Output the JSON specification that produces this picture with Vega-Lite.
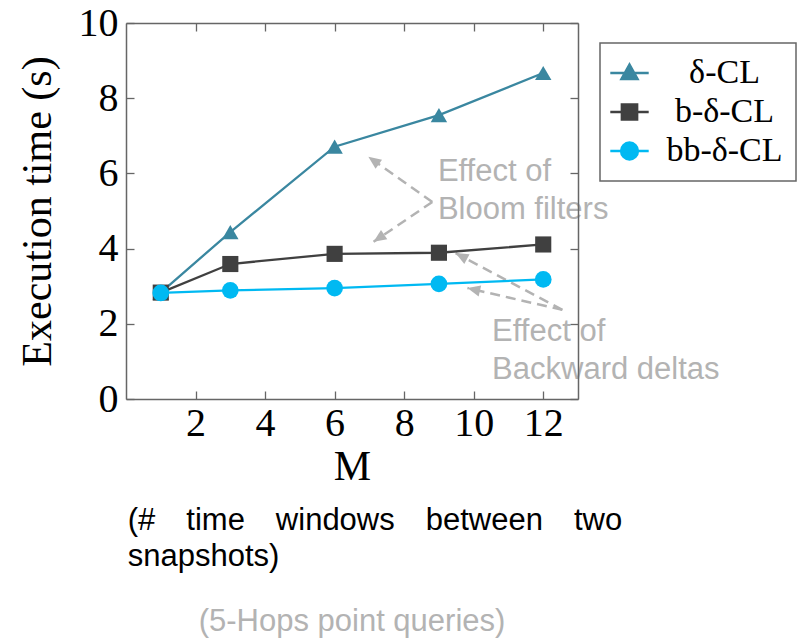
{
  "$schema": "https://vega.github.io/schema/vega-lite/v6.json",
  "width": 452,
  "height": 376,
  "autosize": {"type": "none"},
  "padding": {"left": 126, "top": 23, "right": 229, "bottom": 239},
  "background": "white",
  "datasets": {
    "series": [
      {"M": 1, "t": 2.83, "s": "δ-CL"},
      {"M": 3, "t": 4.44, "s": "δ-CL"},
      {"M": 6, "t": 6.71, "s": "δ-CL"},
      {"M": 9, "t": 7.55, "s": "δ-CL"},
      {"M": 12, "t": 8.67, "s": "δ-CL"},
      {"M": 1, "t": 2.83, "s": "b-δ-CL"},
      {"M": 3, "t": 3.59, "s": "b-δ-CL"},
      {"M": 6, "t": 3.86, "s": "b-δ-CL"},
      {"M": 9, "t": 3.89, "s": "b-δ-CL"},
      {"M": 12, "t": 4.11, "s": "b-δ-CL"},
      {"M": 1, "t": 2.82, "s": "bb-δ-CL"},
      {"M": 3, "t": 2.89, "s": "bb-δ-CL"},
      {"M": 6, "t": 2.95, "s": "bb-δ-CL"},
      {"M": 9, "t": 3.06, "s": "bb-δ-CL"},
      {"M": 12, "t": 3.18, "s": "bb-δ-CL"}
    ],
    "arrows": [
      {"tx": 8.81, "ty": 5.24, "hx": 6.97, "hy": 6.44},
      {"tx": 8.81, "ty": 5.24, "hx": 7.12, "hy": 4.18},
      {"tx": 12.55, "ty": 2.37, "hx": 9.48, "hy": 3.88},
      {"tx": 12.55, "ty": 2.37, "hx": 9.82, "hy": 2.95}
    ],
    "notes": [
      {"x": 8.97, "y": 6.04, "label": "Effect of\nBloom filters"},
      {"x": 10.53, "y": 1.78, "label": "Effect of\nBackward deltas"}
    ],
    "caption": [
      {"x": 0.05, "y": -3.48, "label": "(#\u2002\u2002time\u2002\u2002windows\u2002\u2002between\u2002\u2002two\nsnapshots)"}
    ]
  },
  "title": {
    "text": "(5-Hops point queries)",
    "orient": "bottom",
    "anchor": "middle",
    "font": "Liberation Sans",
    "fontSize": 31,
    "fontWeight": "normal",
    "color": "#b3b3b3",
    "offset": 35
  },
  "config": {
    "view": {"stroke": null},
    "axis": {
      "grid": false,
      "domainColor": "#666666",
      "domainWidth": 1.5,
      "tickColor": "#666666",
      "tickWidth": 1.3,
      "tickSize": -8,
      "labelFont": "Liberation Serif",
      "labelFontSize": 40,
      "labelColor": "#000000",
      "labelFlush": false,
      "titleFont": "Liberation Serif",
      "titleFontSize": 42,
      "titleFontWeight": "normal",
      "titleColor": "#000000"
    },
    "legend": {
      "orient": "none",
      "legendX": 474,
      "legendY": 20,
      "padding": 13,
      "fillColor": "white",
      "strokeColor": "#666666",
      "strokeWidth": 1.5,
      "symbolSize": 256,
      "symbolStrokeWidth": 2.5,
      "symbolOpacity": 1,
      "symbolOffset": -0.5,
      "labelOffset": 78,
      "labelAlign": "center",
      "labelFont": "Liberation Serif",
      "labelFontSize": 34,
      "labelColor": "#000000",
      "labelLimit": 300,
      "rowPadding": 5
    }
  },
  "layer": [
    {
      "data": {"name": "notes"},
      "mark": {"type": "text", "align": "left", "baseline": "middle", "font": "Liberation Sans", "fontSize": 31, "color": "#b3b3b3", "lineBreak": "\n", "lineHeight": 38},
      "encoding": {
        "x": {"field": "x", "type": "quantitative", "axis": null},
        "y": {"field": "y", "type": "quantitative", "axis": null},
        "text": {"field": "label"}
      }
    },
    {
      "data": {"name": "arrows"},
      "mark": {"type": "rule", "color": "#b3b3b3", "strokeWidth": 2.5, "strokeDash": [10, 6]},
      "encoding": {
        "x": {"field": "tx", "type": "quantitative", "axis": null},
        "y": {"field": "ty", "type": "quantitative", "axis": null},
        "x2": {"field": "hx"},
        "y2": {"field": "hy"}
      }
    },
    {
      "data": {"name": "arrows"},
      "transform": [{"calculate": "atan2((datum.hx - datum.tx) * 34.77, (datum.hy - datum.ty) * 37.6) * 180 / PI", "as": "ang"}],
      "mark": {"type": "point", "shape": "M0,0L0.7,1.6L-0.7,1.6Z", "filled": true, "size": 256, "color": "#b3b3b3", "opacity": 1, "strokeWidth": 0},
      "encoding": {
        "x": {"field": "hx", "type": "quantitative", "axis": null},
        "y": {"field": "hy", "type": "quantitative", "axis": null},
        "angle": {"field": "ang", "type": "quantitative", "scale": null}
      }
    },
    {
      "data": {"name": "caption"},
      "mark": {"type": "text", "align": "left", "baseline": "alphabetic", "font": "Liberation Sans", "fontSize": 31, "color": "#000000", "lineBreak": "\n", "lineHeight": 36},
      "encoding": {
        "x": {"field": "x", "type": "quantitative", "axis": null},
        "y": {"field": "y", "type": "quantitative", "axis": null},
        "text": {"field": "label"}
      }
    },
    {
      "data": {"name": "series"},
      "transform": [{"filter": "datum.s === 'δ-CL'"}],
      "mark": {"type": "line", "strokeWidth": 2.3, "color": "#3a87a0"},
      "encoding": {
        "x": {
          "field": "M", "type": "quantitative",
          "scale": {"domain": [0, 13], "nice": false, "zero": false},
          "axis": {"orient": "bottom", "values": [2, 4, 6, 8, 10, 12], "title": "M", "labelPadding": 12, "titlePadding": 3, "zindex": 1}
        },
        "y": {
          "field": "t", "type": "quantitative",
          "scale": {"domain": [0, 10], "nice": false},
          "axis": {"orient": "left", "values": [0, 2, 4, 6, 8, 10], "title": "Execution time (s)", "labelPadding": 16, "titlePadding": 19, "zindex": 1}
        }
      }
    },
    {
      "data": {"name": "series"},
      "transform": [{"filter": "datum.s === 'δ-CL'"}],
      "mark": {"type": "point", "shape": "triangle-up", "filled": true, "opacity": 1, "size": 270, "color": "#3a87a0"},
      "encoding": {
        "x": {"field": "M", "type": "quantitative", "axis": null},
        "y": {"field": "t", "type": "quantitative", "axis": null}
      }
    },
    {
      "data": {"name": "series"},
      "transform": [{"filter": "datum.s === 'b-δ-CL'"}],
      "mark": {"type": "line", "strokeWidth": 2.3, "color": "#404040"},
      "encoding": {
        "x": {"field": "M", "type": "quantitative", "axis": null},
        "y": {"field": "t", "type": "quantitative", "axis": null}
      }
    },
    {
      "data": {"name": "series"},
      "transform": [{"filter": "datum.s === 'b-δ-CL'"}],
      "mark": {"type": "point", "shape": "square", "filled": true, "opacity": 1, "size": 260, "color": "#404040"},
      "encoding": {
        "x": {"field": "M", "type": "quantitative", "axis": null},
        "y": {"field": "t", "type": "quantitative", "axis": null}
      }
    },
    {
      "data": {"name": "series"},
      "transform": [{"filter": "datum.s === 'bb-δ-CL'"}],
      "mark": {"type": "line", "strokeWidth": 2.3, "color": "#00b9f2"},
      "encoding": {
        "x": {"field": "M", "type": "quantitative", "axis": null},
        "y": {"field": "t", "type": "quantitative", "axis": null}
      }
    },
    {
      "data": {"name": "series"},
      "transform": [{"filter": "datum.s === 'bb-δ-CL'"}],
      "mark": {"type": "point", "shape": "circle", "filled": true, "opacity": 1, "size": 280, "color": "#00b9f2"},
      "encoding": {
        "x": {"field": "M", "type": "quantitative", "axis": null},
        "y": {"field": "t", "type": "quantitative", "axis": null}
      }
    },
    {
      "data": {"name": "series"},
      "mark": {"type": "point", "filled": true, "opacity": 0, "size": 256},
      "encoding": {
        "x": {"field": "M", "type": "quantitative", "axis": {"orient": "top", "labels": false, "title": null, "values": [2, 4, 6, 8, 10, 12], "zindex": 1}},
        "y": {"field": "t", "type": "quantitative", "axis": {"orient": "right", "labels": false, "title": null, "values": [0, 2, 4, 6, 8, 10], "zindex": 1}},
        "fill": {
          "field": "s", "type": "nominal",
          "scale": {"domain": ["δ-CL", "b-δ-CL", "bb-δ-CL"], "range": ["#3a87a0", "#404040", "#00b9f2"]},
          "legend": {"title": null}
        },
        "stroke": {
          "field": "s", "type": "nominal",
          "scale": {"domain": ["δ-CL", "b-δ-CL", "bb-δ-CL"], "range": ["#3a87a0", "#404040", "#00b9f2"]},
          "legend": {"title": null}
        },
        "shape": {
          "field": "s", "type": "nominal",
          "scale": {
            "domain": ["δ-CL", "b-δ-CL", "bb-δ-CL"],
            "range": [
              "M-2.4,0H2.4M0,-1.05L1,0.75L-1,0.75Z",
              "M-2.4,0H2.4M-0.95,-0.95H0.95V0.95H-0.95Z",
              "M-2.4,0H2.4M-1.05,0A1.05,1.05 0 1,0 1.05,0A1.05,1.05 0 1,0 -1.05,0Z"
            ]
          },
          "legend": {"title": null}
        }
      }
    }
  ],
  "resolve": {"axis": {"x": "independent", "y": "independent"}}
}
